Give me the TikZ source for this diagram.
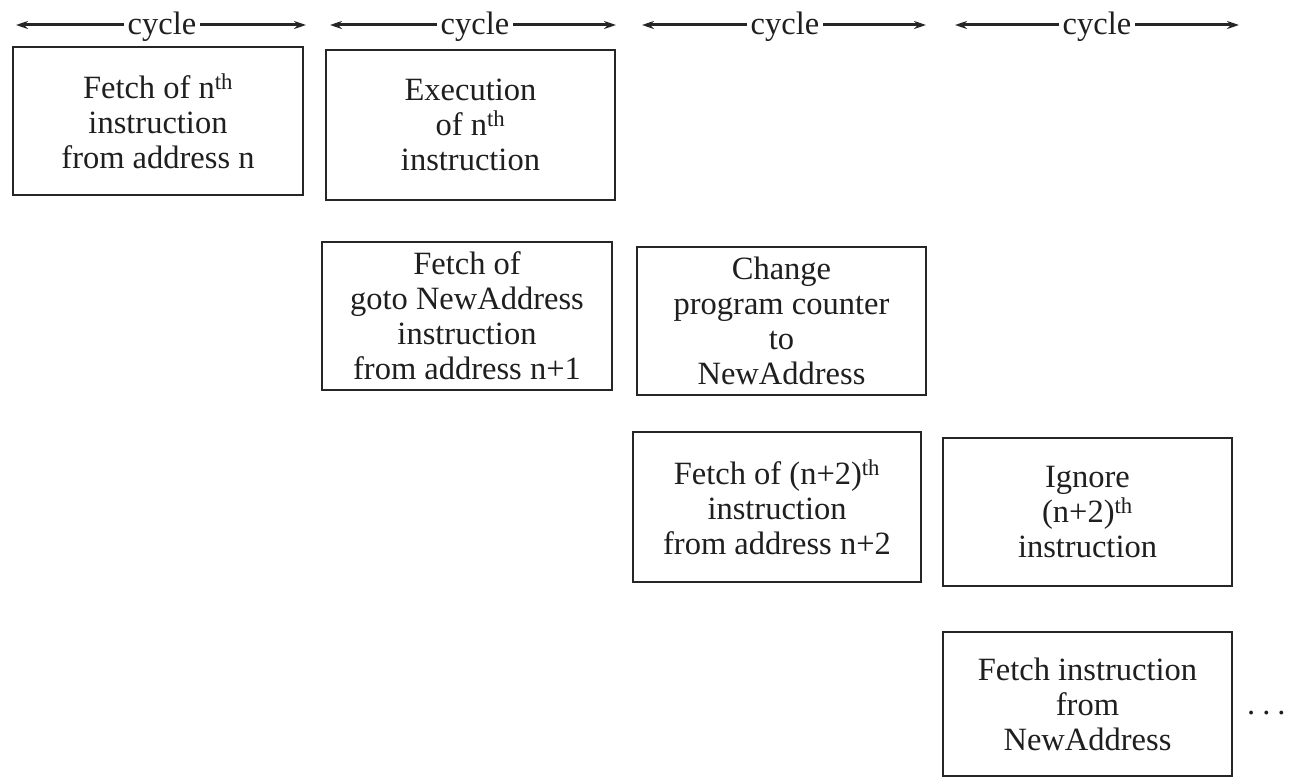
\documentclass[tikz,border=0pt]{standalone}
\usepackage{fontspec}
\setmainfont{Liberation Serif}
\usetikzlibrary{arrows.meta}
\begin{document}
\begin{tikzpicture}[x=1pt,y=-1pt,
  txt/.style={font=\fontsize{32.5}{35}\selectfont, text=black!88, align=center, inner sep=0pt},
  stage/.style={txt, draw=black!85, line width=1.9pt},
  cyc/.style={line width=3pt, draw=black!85, -{Stealth[length=12pt,width=8pt]}},
  lab/.style={txt, inner sep=4pt}]
\useasboundingbox (0,0) rectangle (1291,778);
\fill[white] (0,0) rectangle (1291,778);

% cycle markers
\foreach \i/\a/\m/\b in {1/16/162/306, 2/330/475/616, 3/642/785/926, 4/955/1097/1239} {
  \node[lab] (c\i) at (\m,27) {cycle};
  \coordinate (l\i) at (\a,25);
  \coordinate (r\i) at (\b,25);
  \draw[cyc] (c\i.west |- l\i) -- (l\i);
  \draw[cyc] (c\i.east |- r\i) -- (r\i);
}

% pipeline stages
\node[stage, minimum width=290, minimum height=148] (f1) at (158,121)
  {Fetch of n\textsuperscript{th}\\instruction\\from address n};
\node[stage, minimum width=289, minimum height=150] (e1) at (470.5,125)
  {Execution\\of n\textsuperscript{th}\\instruction};
\node[stage, minimum width=290, minimum height=148] (f2) at (467,316)
  {Fetch of\\goto NewAddress\\instruction\\from address n+1};
\node[stage, minimum width=289, minimum height=148] (pc) at (781.5,321)
  {Change\\program counter\\to\\NewAddress};
\node[stage, minimum width=288, minimum height=150] (f3) at (777,507)
  {Fetch of (n+2)\textsuperscript{th}\\instruction\\from address n+2};
\node[stage, minimum width=289, minimum height=148] (ig) at (1087.5,512)
  {Ignore\\(n+2)\textsuperscript{th}\\instruction};
\node[stage, minimum width=289, minimum height=144] (f4) at (1087.5,704)
  {Fetch instruction\\from\\NewAddress};

% continuation marker
\node[txt, anchor=west] (more) at ([xshift=14pt,yshift=-9pt]f4.east) {.\hspace{7pt}.\hspace{7pt}.};
\end{tikzpicture}
\end{document}
